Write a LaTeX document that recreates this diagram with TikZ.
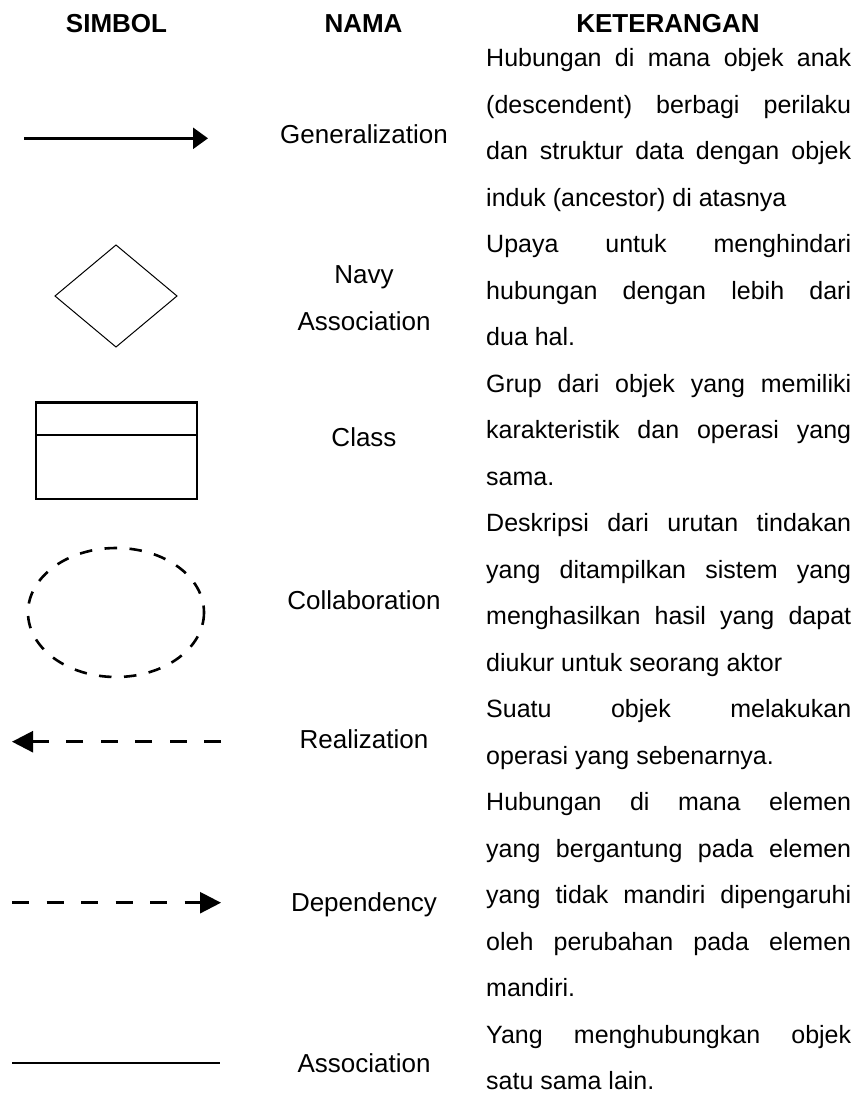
\documentclass[tikz,border=0pt]{standalone}
\usepackage{fontspec}
\setmainfont{Liberation Sans}
\usetikzlibrary{arrows.meta}
\newcommand{\baris}[1]{\makebox[365pt][s]{#1}}

\begin{document}
\begin{tikzpicture}[x=1pt,y=1pt,yscale=-1,xscale=1,
  judul/.style={anchor=base,inner sep=0pt,font=\fontsize{26}{30}\selectfont\bfseries},
  nama/.style={anchor=base,inner sep=0pt,font=\fontsize{26}{30}\selectfont},
  ket/.style={anchor=base west,inner sep=0pt,font=\fontsize{25}{29}\selectfont},
  garis/.style={line width=2.6pt},
  panah/.style={-{Triangle[length=15pt,width=21pt]}},
  panahputus/.style={-{Triangle[length=21pt,width=21pt]},dash pattern=on 17pt off 17.5pt}]
\useasboundingbox (0,0) rectangle (859,1098);

% Header
\node[judul] (hSimbol) at (116.5,32) {SIMBOL};
\node[judul] (hNama) at (363.5,32) {NAMA};
\node[judul] (hKet) at (668,32) {KETERANGAN};

%Shape: Generalization arrow
\coordinate (gen1) at (24,138.3);
\coordinate (gen2) at (208,138.3);
\draw[garis,panah] (gen1) -- (gen2);
%Shape: Diamond
\draw[line width=1pt] (55,296) -- (116,245) -- (177,296) -- (116,347) -- cycle;
%Shape: Class rectangle
\draw[line width=2.8pt] (36,402.7) rectangle (197,499);
\draw[line width=2.8pt] (36,435) -- (197,435);
%Shape: Dashed ellipse
\draw[garis,dash pattern=on 12.5pt off 12.5pt] (116,612.5) ellipse [x radius=88, y radius=64.5];
%Shape: Realization arrow
\coordinate (real1) at (221,741.7);
\coordinate (real2) at (12,741.7);
\draw[garis,panahputus] (real1) -- (real2);
%Shape: Dependency arrow
\coordinate (dep1) at (12,902.7);
\coordinate (dep2) at (221,902.7);
\draw[garis,panahputus] (dep1) -- (dep2);
%Shape: Association line
\coordinate (aso1) at (12,1063);
\coordinate (aso2) at (220,1063);
\draw[line width=2.4pt] (aso1) -- (aso2);

% Name nodes
\node[nama] (nGen) at (364,143) {Generalization};
\node[nama] (nNavy) at (364,283) {Navy};
\node[nama] (nNavyAso) at (364,330) {Association};
\node[nama] (nClass) at (364,446) {Class};
\node[nama] (nColl) at (364,609) {Collaboration};
\node[nama] (nReal) at (364,748) {Realization};
\node[nama] (nDep) at (364,911) {Dependency};
\node[nama] (nAso) at (364,1072) {Association};

% Description nodes
\node[ket] (k1) at (486,66.5) {\baris{Hubungan di mana objek anak}};
\node[ket] (k2) at (486,113) {\baris{(descendent) berbagi perilaku}};
\node[ket] (k3) at (486,159.5) {\baris{dan struktur data dengan objek}};
\node[ket] (k4) at (486,206) {induk (ancestor) di atasnya};
\node[ket] (k5) at (486,252.5) {\baris{Upaya untuk menghindari}};
\node[ket] (k6) at (486,299) {\baris{hubungan dengan lebih dari}};
\node[ket] (k7) at (486,345.5) {dua hal.};
\node[ket] (k8) at (486,392) {\baris{Grup dari objek yang memiliki}};
\node[ket] (k9) at (486,438.5) {\baris{karakteristik dan operasi yang}};
\node[ket] (k10) at (486,485) {sama.};
\node[ket] (k11) at (486,531.5) {\baris{Deskripsi dari urutan tindakan}};
\node[ket] (k12) at (486,578) {\baris{yang ditampilkan sistem yang}};
\node[ket] (k13) at (486,624.5) {\baris{menghasilkan hasil yang dapat}};
\node[ket] (k14) at (486,671) {diukur untuk seorang aktor};
\node[ket] (k15) at (486,717.5) {\baris{Suatu objek melakukan}};
\node[ket] (k16) at (486,764) {operasi yang sebenarnya.};
\node[ket] (k17) at (486,810.5) {\baris{Hubungan di mana elemen}};
\node[ket] (k18) at (486,857) {\baris{yang bergantung pada elemen}};
\node[ket] (k19) at (486,903.5) {\baris{yang tidak mandiri dipengaruhi}};
\node[ket] (k20) at (486,950) {\baris{oleh perubahan pada elemen}};
\node[ket] (k21) at (486,996.5) {mandiri.};
\node[ket] (k22) at (486,1043) {\baris{Yang menghubungkan objek}};
\node[ket] (k23) at (486,1089.5) {satu sama lain.};

\end{tikzpicture}
\end{document}
